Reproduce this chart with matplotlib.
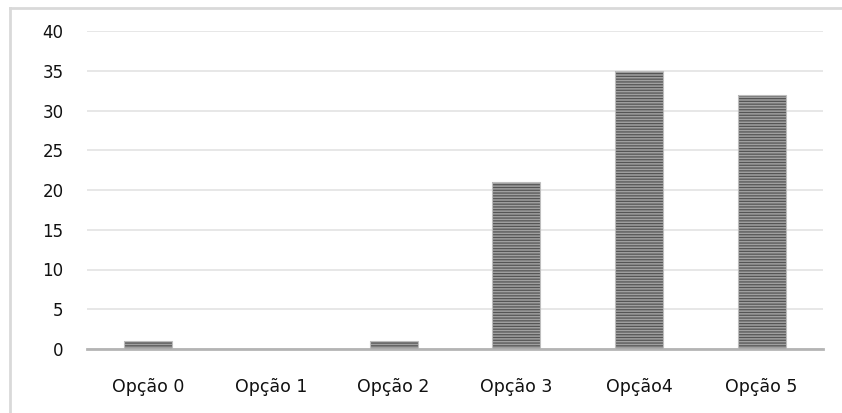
import numpy as np
import matplotlib
matplotlib.use("Agg")
from matplotlib import pyplot as plt
from matplotlib.lines import Line2D

categories = ["Opção 0", "Opção 1", "Opção 2", "Opção 3", "Opção4", "Opção 5"]
values = [1, 0, 1, 21, 35, 32]
yticks = [0, 5, 10, 15, 20, 25, 30, 35, 40]

plt.rcParams['font.family'] = ['DejaVu Sans']
plt.rcParams['hatch.linewidth'] = 0.9

W, H = 842, 413
fig = plt.figure(figsize=(W / 100, H / 100), dpi=100)
ax = fig.add_axes([87 / W, 1 - 349 / H, (823 - 87) / W, (349 - 31) / H])

x = np.arange(len(categories))
# striped fill
ax.bar(x, values, width=0.39, color="#a0a0a0", edgecolor="#555555",
       hatch="------", linewidth=0, zorder=3)
# light outline
ax.bar(x, values, width=0.39, fill=False, edgecolor="#bdbdbd",
       linewidth=0.8, zorder=4)

ax.set_xlim(-0.5, len(categories) - 0.5)
ax.set_ylim(0, 40)
ax.set_yticks(yticks)
ax.set_xticks(x)
ax.set_xticklabels(categories, fontsize=12.5, color="#111111")
ax.tick_params(axis="y", labelsize=12, labelcolor="#111111", length=0, pad=17)
ax.tick_params(axis="x", length=0, pad=21)
ax.grid(axis="y", color="#e3e3e3", linewidth=1.2, zorder=0)
for s in ["top", "right", "left"]:
    ax.spines[s].set_visible(False)
ax.spines["bottom"].set_color("#b4b4b4")
ax.spines["bottom"].set_linewidth(2)
ax.spines["bottom"].set_zorder(5)

# outer chart frame (top and left edges)
fig.add_artist(Line2D([10 / W, 1], [1 - 8 / H, 1 - 8 / H], transform=fig.transFigure,
                      color="#d9d9d9", linewidth=2))
fig.add_artist(Line2D([10 / W, 10 / W], [0, 1 - 8 / H], transform=fig.transFigure,
                      color="#d9d9d9", linewidth=2))

plt.savefig("out.png", dpi=100)
plt.close()
